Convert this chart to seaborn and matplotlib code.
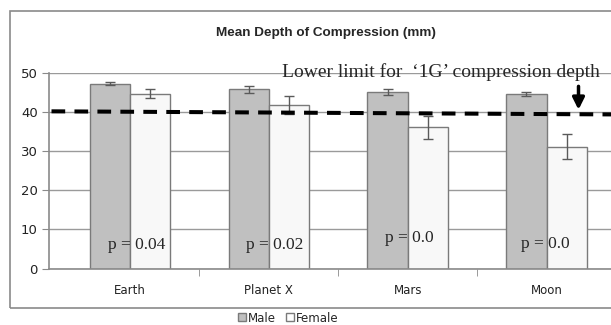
import numpy as np
import pandas as pd
import seaborn as sns
import matplotlib.pyplot as plt
from matplotlib.patches import Rectangle
from matplotlib.lines import Line2D

# Chart values
categories = ["Earth", "Planet X", "Mars", "Moon"]
male_means = [47.3, 45.8, 45.2, 44.6]
male_err = [0.3, 0.8, 0.7, 0.6]
female_means = [44.7, 41.8, 36.1, 31.1]
female_err = [1.2, 2.2, 2.9, 3.2]
p_labels = ["p = 0.04", "p = 0.02", "p = 0.0", "p = 0.0"]
limit_start, limit_end = 40.2, 39.4

df = pd.DataFrame({
    "planet": categories * 2,
    "sex": ["Male"] * 4 + ["Female"] * 4,
    "depth": male_means + female_means,
})

sns.set_style("white")
W, H = 611, 325
fig = plt.figure(figsize=(W / 100, H / 100), dpi=100)
fig.patch.set_facecolor("white")

# outer chart frame (right side runs off the picture)
fig.patches.append(Rectangle((10 / W, 17 / H), 700 / W, 297 / H, transform=fig.transFigure,
                             fill=False, edgecolor="#8a8a8a", lw=1.2))

ax = fig.add_axes([49 / W, 56.5 / H, (616 - 49) / W, 195.5 / H])
ax.set_facecolor("white")

gray_edge = "#7a7a7a"
sns.barplot(data=df, x="planet", y="depth", hue="sex", order=categories,
            hue_order=["Male", "Female"], palette={"Male": "#c0c0c0", "Female": "#f8f8f8"},
            width=0.58, errorbar=None, edgecolor=gray_edge, linewidth=1, legend=False,
            ax=ax, zorder=2)

# error bars at the bar centres
bars = ax.patches
errs = male_err + female_err
means = male_means + female_means
for bar, m, e in zip(bars, means, errs):
    xc = bar.get_x() + bar.get_width() / 2
    ax.errorbar(xc, m, yerr=e, fmt="none", ecolor="#5a5a5a", elinewidth=1,
                capsize=3.5, capthick=1, zorder=3)

ax.set_xlim(-0.583, 3.5)
ax.set_ylim(0, 50)
ax.set_yticks([0, 10, 20, 30, 40, 50])
ax.yaxis.grid(True, color="#9a9a9a", lw=1)
ax.set_axisbelow(True)
for s in ["top", "right"]:
    ax.spines[s].set_visible(False)
for s in ["left", "bottom"]:
    ax.spines[s].set_color("#8a8a8a")
    ax.spines[s].set_linewidth(1.2)

ax.tick_params(axis="y", length=5, color="#8a8a8a", labelsize=9.5, pad=3, direction="out",
               left=True, labelcolor="#222222")
ax.set_xticks(range(len(categories)))
ax.set_xticklabels(categories, fontsize=8.5, color="#222222")
ax.tick_params(axis="x", length=0, pad=11)
ax.set_xticks([0.5, 1.5, 2.5], minor=True)
ax.tick_params(axis="x", which="minor", length=5, color="#8a8a8a", direction="out", bottom=True)
ax.set_xlabel("")
ax.set_ylabel("")

# 1G limit line
ax.plot([-0.565, 3.5], [limit_start, limit_end], color="black", lw=2.9,
        dashes=(3.4, 2.3), zorder=4, clip_on=False)

# p-value labels
p_offsets = [(0.05, 6.0), (0.04, 6.0), (0.01, 7.8), (-0.01, 6.2)]
for i, (lab, (dx, yy)) in enumerate(zip(p_labels, p_offsets)):
    ax.text(i + dx, yy, lab, family="Liberation Serif", fontsize=12.5,
            ha="center", va="center", zorder=5)

# annotation text and arrow
fig.text(441 / W, 1 - 72 / H, "Lower limit for  \u20181G\u2019 compression depth",
         family="Liberation Serif", fontsize=14, ha="center", va="center")
ax.annotate("", xy=(3.23, 39.9), xytext=(3.23, 47.3),
            arrowprops=dict(arrowstyle="-|>,head_width=0.35,head_length=0.7",
                            color="black", lw=2.5), zorder=6)

fig.text(326 / W, 1 - 33 / H, "Mean Depth of Compression (mm)", fontsize=9.7,
         fontweight="bold", ha="center", va="center", family="Liberation Sans")

handles = [Line2D([], [], marker="s", ls="", markersize=6, markerfacecolor="#c0c0c0",
                  markeredgecolor=gray_edge),
           Line2D([], [], marker="s", ls="", markersize=6, markerfacecolor="white",
                  markeredgecolor=gray_edge)]
fig.legend(handles, ["Male", "Female"], loc="center", bbox_to_anchor=(288 / W, 1 - 318 / H),
           ncol=2, frameon=False, fontsize=8.5, handletextpad=0.1, columnspacing=0.8,
           handlelength=0.8, borderpad=0)

fig.savefig("out.png", dpi=100)
